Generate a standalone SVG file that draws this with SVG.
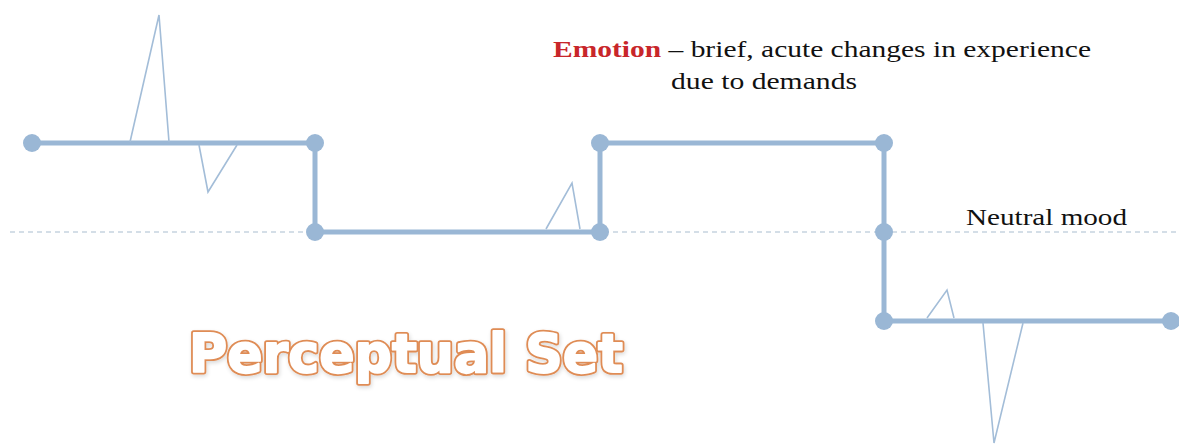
<svg xmlns="http://www.w3.org/2000/svg" width="1179" height="445" viewBox="0 0 1179 445">
<style>
.step{fill:none;stroke:#9ab7d5;stroke-width:5;stroke-linejoin:miter}
.spike{fill:none;stroke:#a3bdd8;stroke-width:1.6;stroke-linejoin:miter}
.dot{fill:#9ab7d5}
.neutral{stroke:#a9bdd0;stroke-width:1.2;stroke-dasharray:5,4;fill:none}
.serif{font-family:"Liberation Serif","Times New Roman",serif;font-size:24px;fill:#111}
.emo{font-weight:bold;fill:#c8262a}
.t{font-family:"DejaVu Sans",Verdana,sans-serif;font-weight:bold;font-size:53px;stroke-linejoin:round}
.t1{fill:#df8c55;stroke:#df8c55;stroke-width:5.5}
.t2{fill:#fff;stroke:#fff;stroke-width:1.8}
</style>
<defs>
<filter id="glow" x="-10%" y="-30%" width="120%" height="160%">
<feGaussianBlur in="SourceAlpha" stdDeviation="2"/>
<feOffset dx="1" dy="2"/>
<feComponentTransfer><feFuncA type="linear" slope="0.15"/></feComponentTransfer>
<feMerge><feMergeNode/><feMergeNode in="SourceGraphic"/></feMerge>
</filter>
</defs>
<rect width="1179" height="445" fill="#fff"/>
<line class="neutral" x1="10" y1="232" x2="1179" y2="232"/>
<g id="connectors">
<polyline class="step" points="32,143 315,143 315,232 600,232 600,143 884,143 884,321 1171,321"/>
<polyline class="spike" points="130,142 159,15 169,142"/>
<polyline class="spike" points="199,145 208,192 237,145"/>
<polyline class="spike" points="546,229 572,183 580,229"/>
<polyline class="spike" points="927,318 947,290 954,318"/>
<polyline class="spike" points="983,323 994,443 1023,323"/>
</g>
<g id="n1"><circle class="dot" cx="32" cy="143" r="9"/></g>
<g id="n2"><circle class="dot" cx="315" cy="143" r="9"/></g>
<g id="n3"><circle class="dot" cx="315" cy="232" r="9"/></g>
<g id="n4"><circle class="dot" cx="600" cy="232" r="9"/></g>
<g id="n5"><circle class="dot" cx="600" cy="143" r="9"/></g>
<g id="n6"><circle class="dot" cx="884" cy="143" r="9"/></g>
<g id="n7"><circle class="dot" cx="884" cy="232" r="9"/></g>
<g id="n8"><circle class="dot" cx="884" cy="321" r="9"/></g>
<g id="n9"><circle class="dot" cx="1171" cy="321" r="9"/></g>
<g id="emotion-label" font-family="Liberation Serif, Times New Roman, serif">
<text class="serif" x="553" y="57" textLength="538" lengthAdjust="spacingAndGlyphs"><tspan class="emo">Emotion</tspan> – brief, acute changes in experience</text>
<text class="serif" x="671" y="89" textLength="186" lengthAdjust="spacingAndGlyphs">due to demands</text>
</g>
<g id="neutral-label" font-family="Liberation Serif, Times New Roman, serif"><text class="serif" x="966" y="225" textLength="161" lengthAdjust="spacingAndGlyphs">Neutral mood</text></g>
<g id="title" filter="url(#glow)">
<text class="t t1" x="189" y="372" textLength="434" lengthAdjust="spacingAndGlyphs">Perceptual Set</text>
<text class="t t2" x="189" y="372" textLength="434" lengthAdjust="spacingAndGlyphs">Perceptual Set</text>
</g>
</svg>
